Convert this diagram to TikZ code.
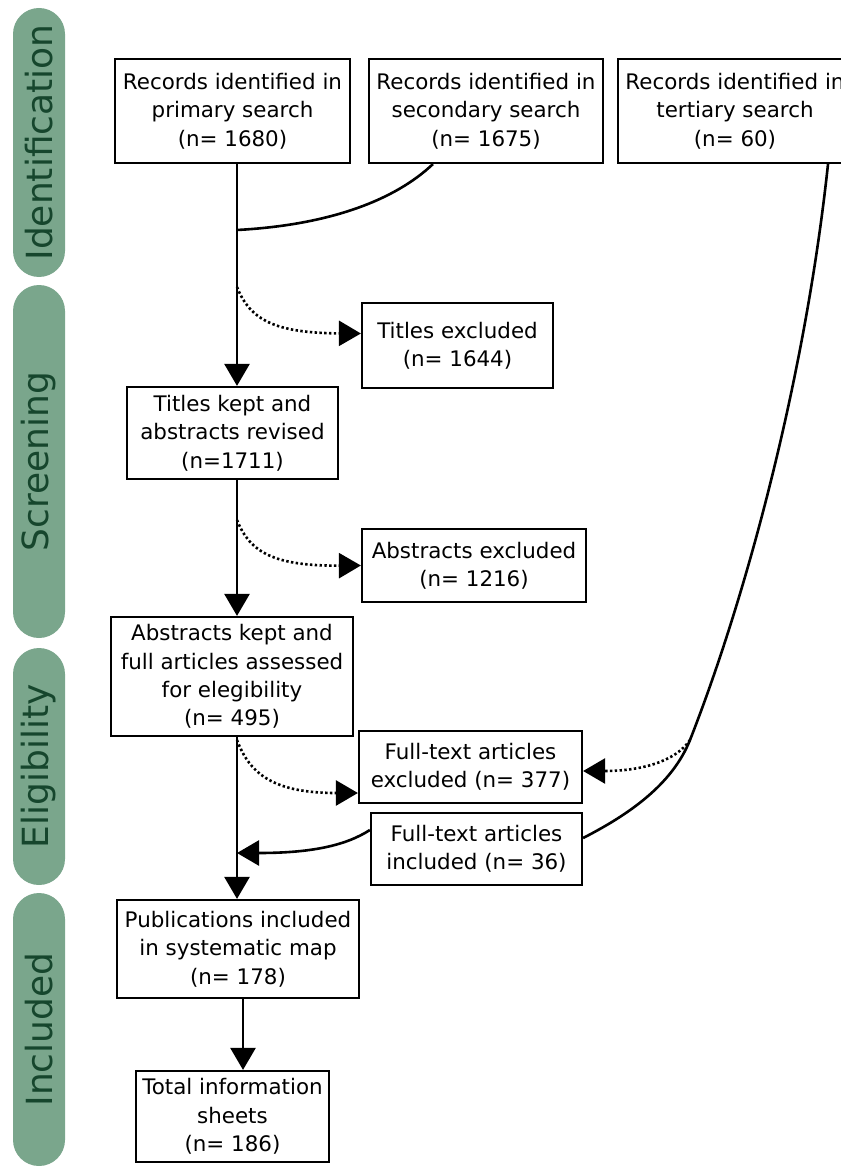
\documentclass[tikz,border=0pt]{standalone}
\usepackage{fontspec}
\setmainfont{DejaVu Sans}
\usetikzlibrary{arrows.meta}
\definecolor{phasegreen}{RGB}{122,166,140}
\definecolor{phasetext}{RGB}{22,70,45}
\tikzset{
  box/.style={draw, line width=2.2pt, align=center, inner sep=0pt, font=\fontsize{21.4}{28.3}\selectfont},
  phase/.style={fill=phasegreen, rounded corners=26pt, minimum height=52pt, rotate=90, inner sep=0pt, text=phasetext, font=\fontsize{36}{40}\selectfont},
  link/.style={line width=2.6pt},
  flow/.style={link, -{Triangle[length=22pt,width=25pt]}},
  drop/.style={flow, dash pattern=on 2.4pt off 2.4pt},
}
\begin{document}
\begin{tikzpicture}[x=1pt, y=-1pt]
    \useasboundingbox (0,0) rectangle (840,1169);

    \draw (39,142.5) node[phase, minimum width=269pt] (ident) {Identification};
    \draw (39,461.5) node[phase, minimum width=353pt] (screen) {Screening};
    \draw (39,766.5) node[phase, minimum width=237pt] (elig) {Eligibility};
    \draw (39,1029.5) node[phase, minimum width=273pt] (incl) {Included};

    \draw (232.5,111) node[box, minimum width=235pt, minimum height=104pt] (prim) {Records identified in\\primary search\\(n= 1680)};
    \draw (486,111) node[box, minimum width=234pt, minimum height=104pt] (sec) {Records identified in\\secondary search\\(n= 1675)};
    \draw (735,111) node[box, minimum width=234pt, minimum height=104pt] (tert) {Records identified in\\tertiary search\\(n= 60)};
    \draw (457.5,345.5) node[box, minimum width=191pt, minimum height=85pt] (titex) {Titles excluded\\(n= 1644)};
    \draw (232.5,433) node[box, minimum width=211pt, minimum height=92pt] (titkept) {Titles kept and\\abstracts revised\\(n=1711)};
    \draw (474,565.5) node[box, minimum width=224pt, minimum height=73pt] (absex) {Abstracts excluded\\(n= 1216)};
    \draw (232,676.5) node[box, minimum width=242pt, minimum height=119pt] (abskept) {Abstracts kept and\\full articles assessed\\for elegibility\\(n= 495)};
    \draw (470.5,767) node[box, minimum width=223pt, minimum height=72pt] (ftex) {Full-text articles\\excluded (n= 377)};
    \draw (476.5,849) node[box, minimum width=211pt, minimum height=72pt] (ftin) {Full-text articles\\included (n= 36)};
    \draw (238,949) node[box, minimum width=242pt, minimum height=98pt] (pub) {Publications included\\in systematic map\\(n= 178)};
    \draw (232.5,1116.5) node[box, minimum width=193pt, minimum height=91pt] (total) {Total information\\sheets\\(n= 186)};

    \coordinate (join) at (237,230);
    \coordinate (b1) at (237,287);
    \coordinate (b2) at (237,520);
    \coordinate (b3) at (237,740);
    \coordinate (fin) at (237,853);
    \coordinate (tjoin) at (690,740);

    \draw[link] (prim.south -| join) -- (join);
    \draw[link] ([xshift=65pt]sec.south west) .. controls (395,200) and (330,225) .. (join);
    \draw[flow] (join) -- (titkept.north -| join);
    \draw[flow] (titkept.south -| join) -- (abskept.north -| join);
    \draw[flow] (abskept.south -| join) -- (pub.north -| join);
    \draw[flow] ([xshift=5pt]pub.south) -- ([xshift=5pt]pub.south |- total.north);

    \draw[drop] (b1) .. controls (250,320) and (275,333) .. ([yshift=12pt]titex.west);
    \draw[drop] (b2) .. controls (250,553) and (275,566) .. (absex.west);
    \draw[drop] (b3) .. controls (250,775) and (275,793) .. ([yshift=-26pt]ftex.west);

    \draw[link] ([xshift=93pt]tert.south) .. controls (805,380) and (745,600) .. (tjoin) .. controls (672,785) and (628,815) .. ([yshift=11pt]ftin.east);
    \draw[drop] (tjoin) .. controls (675,762) and (640,771) .. ([yshift=-4pt]ftex.east);
    \draw[flow] ([yshift=19pt]ftin.west) .. controls (345,846) and (310,853) .. (fin);
\end{tikzpicture}
\end{document}
